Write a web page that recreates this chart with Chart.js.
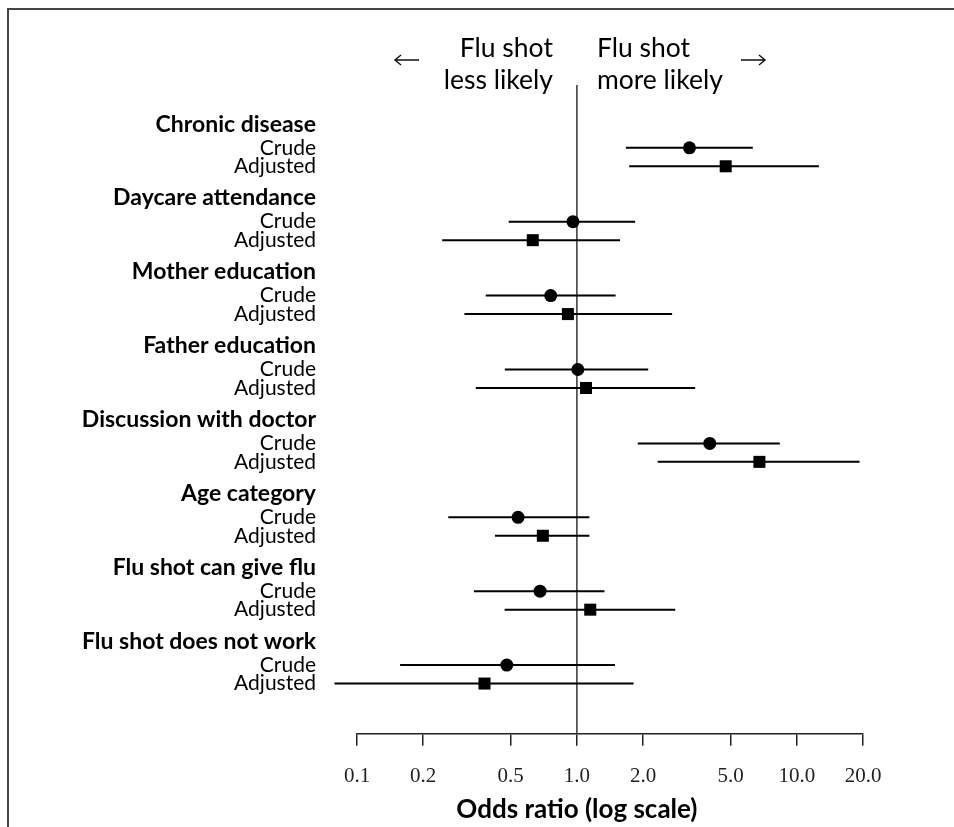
<!DOCTYPE html>
<html>
<head>
<meta charset="utf-8">
<script src="https://cdn.jsdelivr.net/npm/chart.js@4.4.0/dist/chart.umd.min.js"></script>
<style>
  html, body { margin: 0; padding: 0; background: #fff; }
  #wrap { width: 954px; height: 827px; position: relative; }
</style>
</head>
<body>
<div id="wrap"><canvas id="forest"></canvas></div>
<script>
const groups = ['Chronic disease', 'Daycare attendance', 'Mother education', 'Father education',
  'Discussion with doctor', 'Age category', 'Flu shot can give flu', 'Flu shot does not work'];
const rowLabels = ['Crude', 'Adjusted'];

// odds ratios with 95% CI
const crudeOR = [3.25, 0.96, 0.76, 1.01, 4.02, 0.54, 0.68, 0.48];
const crudeLo = [1.67, 0.49, 0.385, 0.47, 1.89, 0.26, 0.34, 0.157];
const crudeHi = [6.31, 1.84, 1.50, 2.11, 8.37, 1.14, 1.335, 1.49];
const adjOR = [4.75, 0.63, 0.91, 1.10, 6.76, 0.70, 1.15, 0.38];
const adjLo = [1.73, 0.244, 0.308, 0.347, 2.33, 0.424, 0.469, 0.079];
const adjHi = [12.6, 1.57, 2.71, 3.45, 19.3, 1.14, 2.80, 1.81];

const xTicks = [0.1, 0.2, 0.5, 1, 2, 5, 10, 20];
const xTitle = 'Odds ratio (log scale)';

// row offsets inside a group (header sits at the group index)
const CRUDE_OFF = 0.32;
const ADJ_OFF = 0.57;

const ciSets = [];
groups.forEach((g, i) => {
  ciSets.push({ lo: crudeLo[i], hi: crudeHi[i], y: i + CRUDE_OFF });
  ciSets.push({ lo: adjLo[i], hi: adjHi[i], y: i + ADJ_OFF });
});

const datasets = ciSets.map(c => ({
  type: 'line',
  data: [{ x: c.lo, y: c.y }, { x: c.hi, y: c.y }],
  showLine: true,
  borderColor: '#000',
  borderWidth: 2,
  pointRadius: 0,
  clip: false
}));

datasets.push({
  label: 'Crude',
  data: crudeOR.map((v, i) => ({ x: v, y: i + CRUDE_OFF })),
  pointStyle: 'circle',
  pointRadius: 6.5,
  backgroundColor: '#000',
  borderColor: '#000',
  borderWidth: 0,
  clip: false
});
datasets.push({
  label: 'Adjusted',
  data: adjOR.map((v, i) => ({ x: v, y: i + ADJ_OFF })),
  pointStyle: 'rect',
  pointRadius: 8.5,
  backgroundColor: '#000',
  borderColor: '#000',
  borderWidth: 0,
  clip: false
});

function arrow(ctx, x0, x1, y) {
  const dir = Math.sign(x1 - x0);
  ctx.beginPath();
  ctx.moveTo(x0, y);
  ctx.lineTo(x1, y);
  ctx.moveTo(x1 - dir * 6, y - 5);
  ctx.lineTo(x1, y);
  ctx.lineTo(x1 - dir * 6, y + 5);
  ctx.stroke();
}

const decor = {
  id: 'decor',
  beforeDatasetsDraw(chart) {
    const { ctx, chartArea, scales } = chart;
    const x1 = scales.x.getPixelForValue(1);
    ctx.save();
    ctx.strokeStyle = '#333';
    ctx.lineWidth = 1.5;
    ctx.beginPath();
    ctx.moveTo(x1, chartArea.top);
    ctx.lineTo(x1, chartArea.bottom);
    ctx.stroke();
    ctx.restore();
  },
  afterDraw(chart) {
    const { ctx, scales } = chart;
    const y = scales.y;
    const labelX = 316;
    ctx.save();
    // frame (top and left only)
    ctx.strokeStyle = '#444';
    ctx.lineWidth = 2;
    ctx.beginPath();
    ctx.moveTo(954, 9);
    ctx.lineTo(8, 9);
    ctx.lineTo(8, 827);
    ctx.stroke();

    ctx.fillStyle = '#000';
    ctx.textAlign = 'right';
    ctx.textBaseline = 'middle';
    groups.forEach((g, i) => {
      ctx.font = 'bold 23px Lato';
      ctx.fillText(g, labelX, y.getPixelForValue(i));
      ctx.font = '21px Lato';
      ctx.fillText(rowLabels[0], labelX, y.getPixelForValue(i + CRUDE_OFF));
      ctx.fillText(rowLabels[1], labelX, y.getPixelForValue(i + ADJ_OFF));
    });

    // direction header
    const x1 = scales.x.getPixelForValue(1);
    ctx.font = '26.5px Lato';
    ctx.textAlign = 'right';
    ctx.fillText('Flu shot', x1 - 24, 48);
    ctx.fillText('less likely', x1 - 24, 80);
    ctx.textAlign = 'left';
    ctx.fillText('Flu shot', x1 + 20, 48);
    ctx.fillText('more likely', x1 + 20, 80);
    ctx.strokeStyle = '#111';
    ctx.lineWidth = 1.4;
    arrow(ctx, 419, 395, 60);
    arrow(ctx, 741, 765, 60);

    // axis title, centred under the 1.0 line
    ctx.textAlign = 'center';
    ctx.font = 'bold 26px Lato';
    ctx.fillText(xTitle, x1, 810);
    ctx.restore();
  }
};

new Chart(document.getElementById('forest'), {
  type: 'scatter',
  data: { datasets },
  options: {
    responsive: true,
    maintainAspectRatio: false,
    animation: false,
    layout: { padding: { left: 357, right: 91, top: 85, bottom: 20 } },
    plugins: { legend: { display: false }, tooltip: { enabled: false } },
    scales: {
      x: {
        type: 'logarithmic',
        min: 0.1,
        max: 20,
        afterBuildTicks: s => { s.ticks = xTicks.map(v => ({ value: v })); },
        grid: { drawOnChartArea: false, drawTicks: true, tickLength: 12, color: '#222', lineWidth: 1.5 },
        border: { display: true, color: '#222', width: 1.5 },
        ticks: {
          padding: 18,
          autoSkip: false,
          maxRotation: 0,
          color: '#222',
          font: { family: 'Liberation Serif', size: 21 },
          callback: v => Number(v).toFixed(1)
        }
      },
      y: {
        type: 'linear',
        reverse: true,
        min: -0.53,
        max: 8.25,
        display: false
      }
    }
  },
  plugins: [decor]
});
</script>
</body>
</html>
